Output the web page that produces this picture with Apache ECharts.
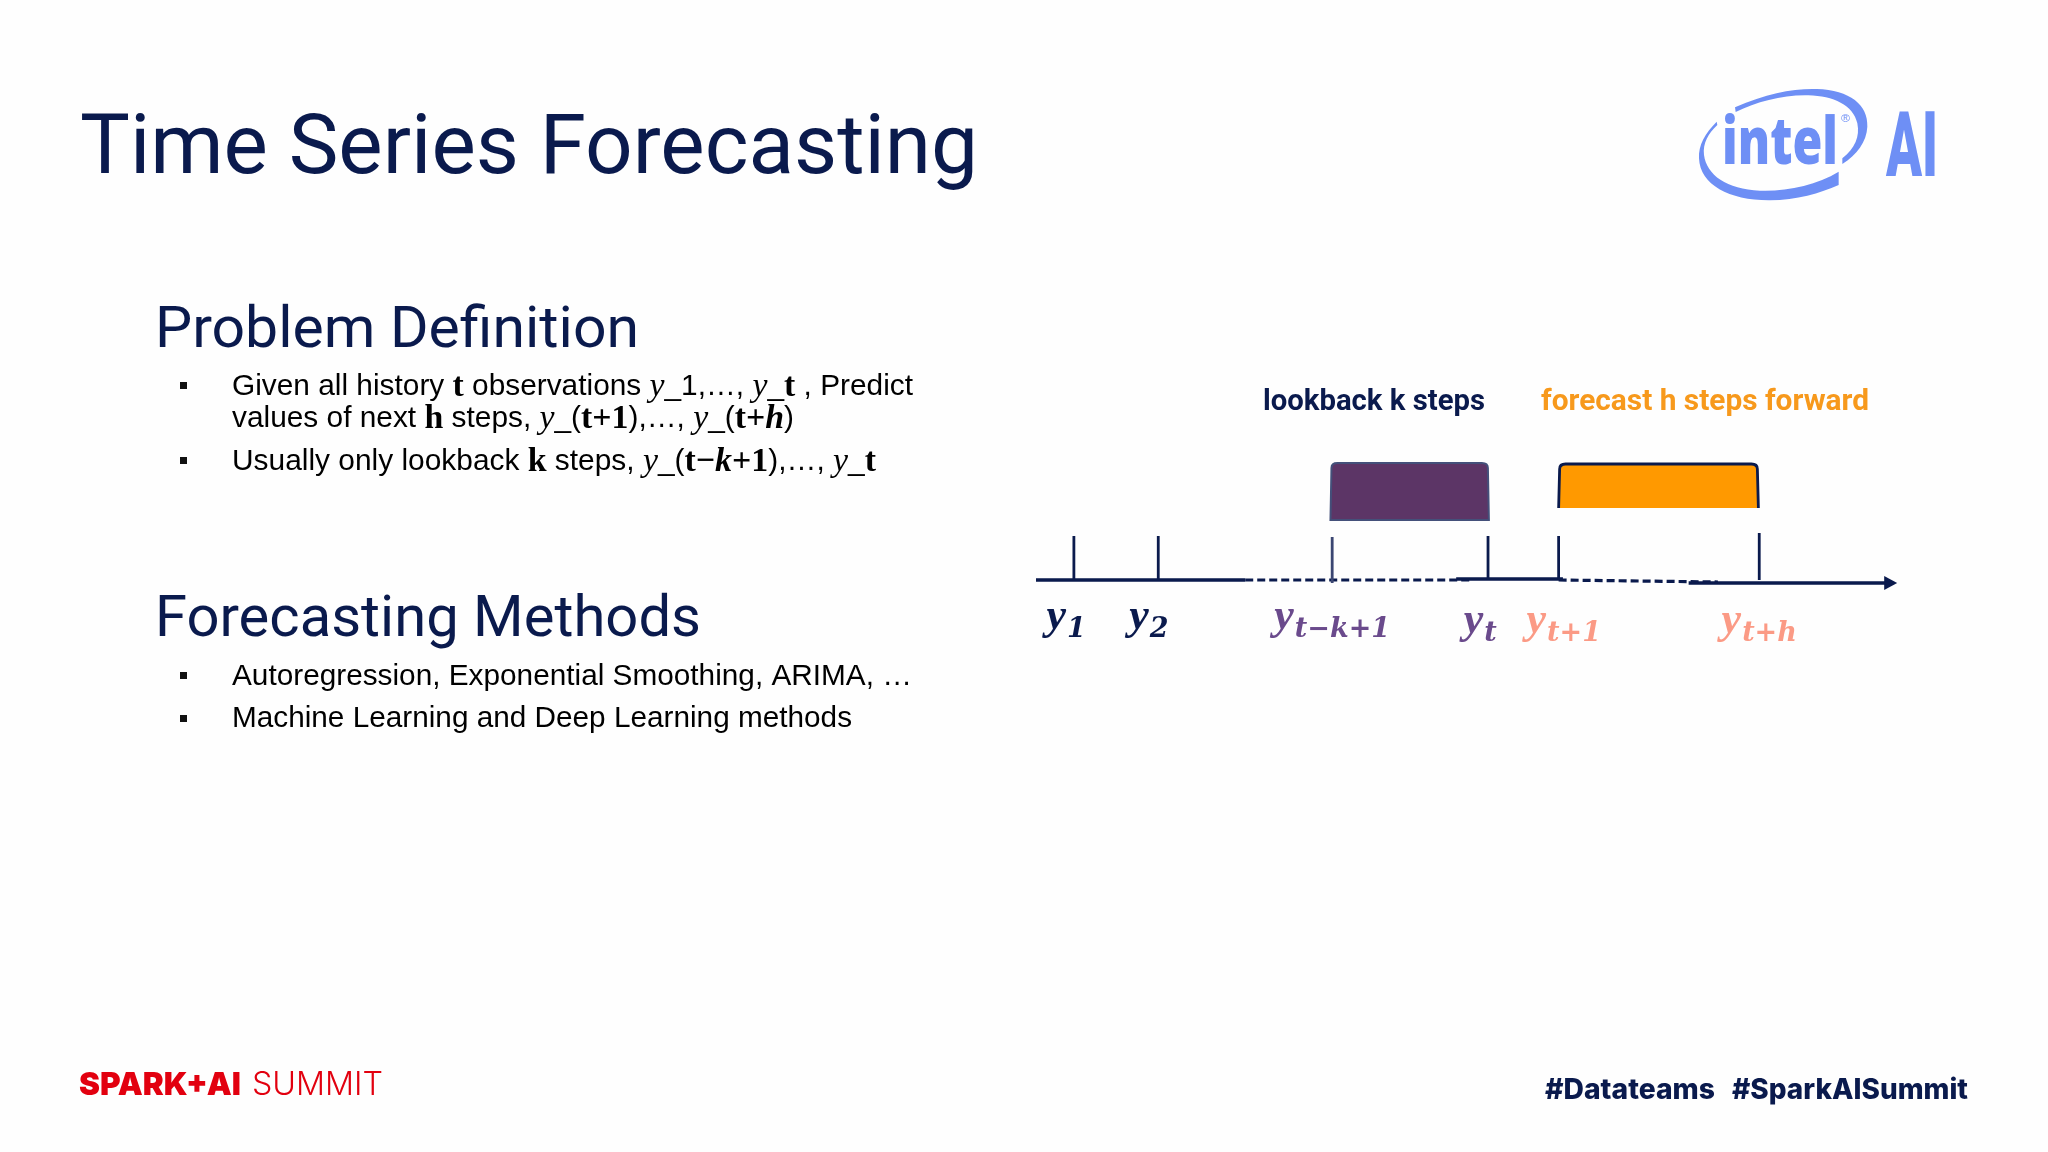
<!DOCTYPE html>
<html><head><meta charset="utf-8">
<style>html,body{margin:0;padding:0;background:#fefefe}#c{width:2048px;height:1152px}</style>
<script src="https://cdn.jsdelivr.net/npm/echarts@6/dist/echarts.min.js"></script>
</head><body><div id="c"></div>
<script>
// ---- timeline data (x: position along time axis 0-100, y: height above the axis) ----
const tickNames     = ['y1','y2','yt-k+1','yt','yt+1','yt+h'];
const tickPositions = [4.4, 14.2, 34.4, 52.5, 60.7, 84.0];
const tickHeights   = [44, 44, 43, 44, 44, 47];
const tickBases     = [0, 0, -3, 0, 0, 0];
const labelPositions= [3.5, 13.1, 34.4, 51.6, 61.3, 84.0];
const labelMain     = ['y','y','y','y','y','y'];
const labelSub      = ['1','2','t−k+1','t','t+1','t+h'];
const solidAxis     = [[[0,0],[24.3,0]], [[48.8,1],[61.2,1]], [[75.8,-3],[99.5,-3]]];
const dashedAxis    = [[[24.3,0],[50.5,0]], [[60.7,0],[79.2,-2]]];
const lookbackWindow= [34.2, 52.6, 60, 117];
const forecastWindow= [60.7, 83.9, 72, 116];
const arrowHead     = [[99.5, -3]];
// ---- text ----
const titleText = 'Time Series Forecasting';
const heading1 = 'Problem Definition';
const heading2 = 'Forecasting Methods';
const line1 = [['Given all history ','n'],['t','b'],[' observations ','n'],['y','i'],['_1,…, ','n'],['y','i'],['_','n'],['t','b'],[' , Predict','n']];
const line2 = [['values of next ','n'],['h','b'],[' steps, ','n'],['y','i'],['_(','n'],['t+1','b'],['),…, ','n'],['y','i'],['_(','n'],['t+','b'],['h','bi'],[')','n']];
const line3 = [['Usually only lookback ','n'],['k','b'],[' steps, ','n'],['y','i'],['_(','n'],['t−','b'],['k','bi'],['+1','b'],['),…, ','n'],['y','i'],['_','n'],['t','b']];
const line4 = [['Autoregression, Exponential Smoothing, ARIMA, …','n']];
const line5 = [['Machine Learning and Deep Learning methods','n']];
const lookbackText = 'lookback k steps';
const forecastText = 'forecast h steps forward';
const footerBold = 'SPARK+AI';
const footerLight = 'SUMMIT';
const tag1 = '#Datateams';
const tag2 = '#SparkAISummit';

const navy='#0a1a4d', purple='#5c3566', orange='#ff9900', salmon='#fb9a85', lpurple='#6a4a8c', blue='#6e8ff5', red='#e2000f';
const labelColors=[navy,navy,lpurple,lpurple,salmon,salmon];
const mctx=document.createElement('canvas').getContext('2d');
const SANS='"Liberation Sans"', SERIF='"Liberation Serif"';
const rich=(size,color)=>({
  n:{fontFamily:SANS,fontSize:size,color},
  b:{fontFamily:SERIF,fontWeight:'bold',fontSize:size+4,color},
  i:{fontFamily:SERIF,fontStyle:'italic',fontSize:size+4,color},
  bi:{fontFamily:SERIF,fontStyle:'italic',fontWeight:'bold',fontSize:size+4,color}
});
function measure(font,t){mctx.font=font;return mctx.measureText(t).width;}
function fit(t,x,yMid,family,size,weight,color,target){
  const w=measure(`${weight} ${size}px ${family}`,t);
  return {type:'text',x,y:yMid,scaleX:target/w,silent:true,
    style:{text:t,fontFamily:family,fontSize:size,fontWeight:weight,fill:color,align:'left',verticalAlign:'middle'}};
}
function fitRich(segs,x,yMid,size,color,target){
  const r=rich(size,color);let w=0;
  segs.forEach(([t,k])=>{const s=r[k];w+=measure(`${s.fontStyle||'normal'} ${s.fontWeight||'normal'} ${s.fontSize}px ${s.fontFamily}`,t);});
  return {type:'text',x,y:yMid,scaleX:target/w,silent:true,
    style:{text:segs.map(([t,k])=>`{${k}|${t}}`).join(''),rich:r,align:'left',verticalAlign:'middle',fontSize:size}};
}
const bullet=(x,y)=>({type:'rect',shape:{x,y,width:7,height:7},style:{fill:'#111'},silent:true});
const upperSwoosh='M165 112 C260 70 340 55 410 57 C510 60 565 105 562 170 C560 215 530 255 487 282 L487 265 C525 235 540 200 532 160 C520 105 460 78 385 76 C310 74 230 95 167 126 Z';
const lowerSwoosh='M110 155 C75 190 55 225 57 265 C60 345 150 392 270 391 C350 390 420 370 476 345 L476 305 C410 345 320 365 240 362 C140 358 80 315 72 255 C68 220 85 190 112 165 Z';
echarts.graphic.registerShape('upperSwoosh',echarts.graphic.extendPath(upperSwoosh));
echarts.graphic.registerShape('lowerSwoosh',echarts.graphic.extendPath(lowerSwoosh));

const chart=echarts.init(document.getElementById('c'),null,{renderer:'canvas'});
function segSeries(segs,type){
  const d=[];segs.forEach((s,i)=>{if(i)d.push([null,null]);s.forEach(p=>d.push(p));});
  return {type:'line',data:d,symbol:'none',silent:true,animation:false,connectNulls:false,
    lineStyle:{color:navy,width:type==='solid'?3.4:3.2,type:type==='solid'?'solid':[8,4]}};
}
function boxSeries(win,fill,border,side){
  return {type:'custom',silent:true,animation:false,data:[win],z:3,
    renderItem:(p,api)=>{
      const a=api.coord([api.value(0),api.value(3)]),b=api.coord([api.value(1),api.value(2)]);
      const r=5,x0=a[0],x1=b[0],y0=a[1],y1=b[1];
      return {type:'path',shape:{pathData:`M${x0} ${y1} L${x0+1} ${y0+r} Q${x0+1} ${y0} ${x0+r+2} ${y0} L${x1-r-2} ${y0} Q${x1-1} ${y0} ${x1-1} ${y0+r} L${x1} ${y1} ${side?'':'Z'}`,
        x:x0,y:y0,width:x1-x0,height:y1-y0,layout:'cover'},
        style:{fill,stroke:border,lineWidth:side?2.8:2}};
    }};
}
const option={
  backgroundColor:'#fefefe',animation:false,
  grid:{left:1036,width:861,top:463,height:130},
  xAxis:{type:'value',min:0,max:100,show:false},
  yAxis:{type:'value',min:-13,max:117,show:false},
  series:[
    segSeries(solidAxis,'solid'),
    segSeries(dashedAxis,'dashed'),
    {type:'custom',silent:true,animation:false,z:4,
      data:tickPositions.map((v,i)=>[v,tickBases[i],tickHeights[i],i]),
      renderItem:(p,api)=>{
        const a=api.coord([api.value(0),api.value(1)]),b=api.coord([api.value(0),api.value(2)]);
        return {type:'line',shape:{x1:a[0],y1:a[1],x2:b[0],y2:b[1]},
          style:{stroke:api.value(3)===2?'#3b4672':navy,lineWidth:2.8}};
      }},
    boxSeries(lookbackWindow,purple,'#44507a',false),
    boxSeries(forecastWindow,orange,navy,true),
    {type:'scatter',data:arrowHead,symbol:'triangle',symbolSize:[14,13],symbolRotate:-90,symbolOffset:[-2,0],
      itemStyle:{color:navy,opacity:1},silent:true},
    {type:'scatter',symbol:'circle',symbolSize:1,itemStyle:{color:'rgba(0,0,0,0)'},silent:true,z:5,clip:false,
      data:labelPositions.map((v,i)=>({value:[v,-13],
        label:{show:true,position:'bottom',distance:0,offset:[0,i<3?6:10],opacity:1,
          formatter:`{y|${labelMain[i]}}{s|${labelSub[i]}}`,
          rich:{y:{fontFamily:SERIF,fontStyle:'italic',fontWeight:'bold',fontSize:44,color:labelColors[i],lineHeight:44,padding:[0,1,8,0]},
                s:{fontFamily:'"DejaVu Serif"',fontStyle:'italic',fontWeight:'bold',fontSize:27,color:labelColors[i],lineHeight:44,padding:[16,0,0,0]}}}}))}
  ],
  graphic:{elements:[
    fit(titleText,80,152,'Roboto',83,'normal',navy,898),
    fit(heading1,155,332,'Roboto',58,'normal',navy,484),
    fit(heading2,155,621,'Roboto',58,'normal',navy,546),
    fitRich(line1,232,387,30,'#111',681),
    fitRich(line2,232,419,30,'#111',562),
    fitRich(line3,232,462,30,'#111',644),
    fitRich(line4,232,677,30,'#111',680),
    fitRich(line5,232,719,30,'#111',620),
    bullet(180,382),bullet(180,457),bullet(180,672),bullet(180,715),
    fit(lookbackText,1263,403,'Roboto',29,'bold',navy,222),
    fit(forecastText,1541,403,'Roboto',29,'bold','#f7991c',328),
    {type:'upperSwoosh',x:1680,y:70,scaleX:1/3,scaleY:1/3,silent:true,shape:{},style:{fill:blue}},
    {type:'lowerSwoosh',x:1680,y:70,scaleX:1/3,scaleY:1/3,silent:true,shape:{},style:{fill:blue}},
    fit('intel',1722,145,'"Open Sans"',66,'800',blue,116),
    fit('®',1841,119,'"Liberation Sans"',11,'normal',blue,9),
    fit('AI',1886,153,'Roboto',90,'900',blue,52),
    fit(footerBold,79,1085,'Inter',32,'900',red,162),
    fit(footerLight,252,1085,'Inter',32,'300',red,131),
    fit(tag1,1545,1091,'Inter',28,'800',navy,170),
    fit(tag2,1732,1091,'Inter',28,'800',navy,236)
  ]}
};
chart.setOption(option);
</script></body></html>
